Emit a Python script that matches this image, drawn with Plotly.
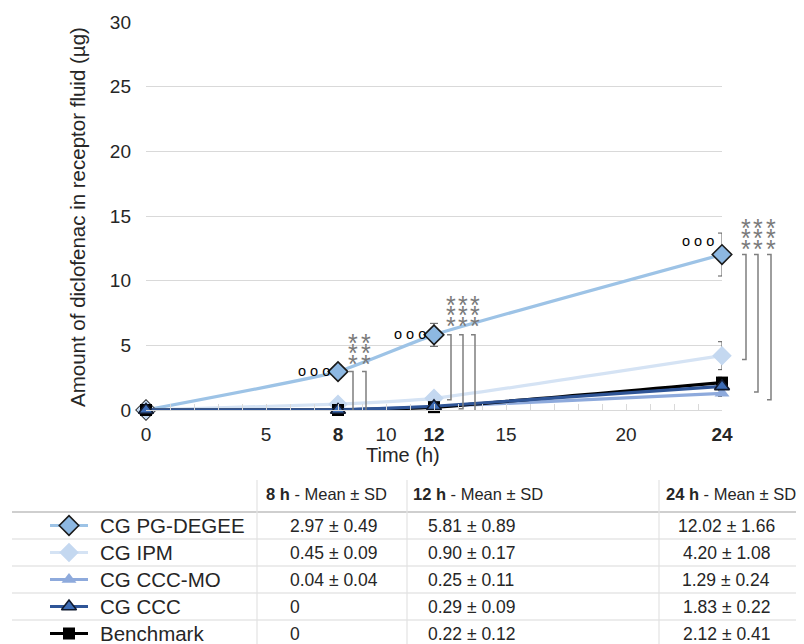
import plotly.graph_objects as go

# page body adds an 8px margin, so the figure is 8px smaller and all
# reference pixel positions are shifted by OFF
OFF = 8
W, H = 804 - OFF, 644 - OFF

# ---------------- data ----------------
time_h = [0, 8, 12, 24]
names = ["CG PG-DEGEE", "CG IPM", "CG CCC-MO", "CG CCC", "Benchmark"]
pg_mean = [0, 2.97, 5.81, 12.02]
pg_sd = [0, 0.49, 0.89, 1.66]
ipm_mean = [0, 0.45, 0.90, 4.20]
ipm_sd = [0, 0.09, 0.17, 1.08]
mo_mean = [0, 0.04, 0.25, 1.29]
mo_sd = [0, 0.04, 0.11, 0.24]
ccc_mean = [0, 0, 0.29, 1.83]
ccc_sd = [0, 0, 0.09, 0.22]
bm_mean = [0, 0, 0.22, 2.12]
bm_sd = [0, 0, 0.12, 0.41]

x_tickvals = [0, 5, 8, 10, 12, 15, 20, 24]
x_ticktext = ["0", "5", "<b>8</b>", "10", "<b>12</b>", "15", "20", "<b>24</b>"]
y_tickvals = [0, 5, 10, 15, 20, 25, 30]
table_times = [8, 12, 24]

# significance brackets: lower ends (µg)
sig_bottoms = {8: [-0.1, -0.1], 12: [0.8, 0.1, -0.2], 24: [3.9, 1.4, 0.8]}

# ---------------- styles ----------------
FONT = "Arial, Liberation Sans, sans-serif"
TXT = "#262626"
styles = [
    dict(line=dict(color="#9dc3e6", width=3.2),
         marker=dict(symbol="diamond", size=15, color="#8db8e2", line=dict(color="#1a1a1a", width=1.6))),
    dict(line=dict(color="#d5e3f4", width=3.2),
         marker=dict(symbol="diamond", size=15, color="#c4d8f0", line=dict(width=0))),
    dict(line=dict(color="#8eaadc", width=3.2),
         marker=dict(symbol="triangle-up", size=13, color="#8eaadc", line=dict(width=0))),
    dict(line=dict(color="#2f5597", width=3.2),
         marker=dict(symbol="triangle-up", size=13, color="#3d6cb5", line=dict(color="#111a2e", width=1.6))),
    dict(line=dict(color="#000000", width=3.2),
         marker=dict(symbol="square", size=12, color="#000000", line=dict(width=0))),
]
means = [pg_mean, ipm_mean, mo_mean, ccc_mean, bm_mean]
sds = [pg_sd, ipm_sd, mo_sd, ccc_sd, bm_sd]

fig = go.Figure()
draw_order = [0, 1, 2, 4, 3]
for i in draw_order:
    fig.add_trace(go.Scatter(
        x=time_h, y=means[i], name=names[i], mode="lines+markers",
        line=dict(styles[i]["line"], shape="spline", smoothing=0.4),
        marker=styles[i]["marker"], cliponaxis=False,
        error_y=dict(type="data", array=sds[i], color="#595959", thickness=1, width=4),
        showlegend=False))

# legend samples in table (own hidden axes)
for i in range(5):
    fig.add_trace(go.Scatter(x=[0, 1], y=[i, i], mode="lines", line=styles[i]["line"],
                             xaxis="x2", yaxis="y2", showlegend=False, hoverinfo="skip"))
    fig.add_trace(go.Scatter(x=[0.5], y=[i], mode="markers", marker=styles[i]["marker"],
                             xaxis="x2", yaxis="y2", showlegend=False, cliponaxis=False))

def px(x):
    return (x - OFF) / W

def py(y):
    return 1 - (y - OFF) / H

row_top, row_h = 512, 27.0
y2_bottom = -0.5 + (644 - row_top) / row_h

fig.update_layout(
    width=W, height=H, autosize=False,
    margin=dict(l=0, r=0, t=0, b=0, pad=0, autoexpand=False),
    paper_bgcolor="white", plot_bgcolor="white",
    font=dict(family=FONT, size=19, color=TXT),
    xaxis=dict(domain=[px(146), px(722)], range=[0, 24], tickmode="array",
               tickvals=x_tickvals, ticktext=x_ticktext, showgrid=False, zeroline=False,
               showline=True, linecolor="#d9d9d9", linewidth=1,
               ticks="inside", ticklen=6, tickcolor="#d9d9d9",
               minor=dict(dtick=1, tick0=0, ticks="inside", ticklen=6, tickcolor="#d9d9d9"),
               ticklabelstandoff=7, tickfont=dict(size=19, color=TXT), automargin=False),
    yaxis=dict(domain=[py(410), py(22)], range=[0, 30], tickvals=y_tickvals,
               showgrid=True, gridcolor="#d9d9d9", gridwidth=1, zeroline=False,
               ticks="", ticklabelstandoff=14, tickfont=dict(size=19, color=TXT), automargin=False),
    xaxis2=dict(domain=[px(50), px(88)], range=[0, 1], visible=False, anchor="y2"),
    yaxis2=dict(domain=[0, py(row_top)], range=[y2_bottom, -0.5], visible=False, anchor="x2"),
)

ann = []
shapes = []
# axis titles
ann.append(dict(text="Amount of diclofenac in receptor fluid (µg)", xref="paper", yref="paper",
                x=px(77), y=py(217), xanchor="center", yanchor="middle", textangle=-90,
                showarrow=False, font=dict(size=20.5)))
ann.append(dict(text="Time (h)", xref="paper", yref="paper", x=px(403), y=py(455),
                xanchor="center", yanchor="middle", showarrow=False, font=dict(size=20)))

# significance markers
bracket_px = {8: [353, 366], 12: [451, 463, 475], 24: [746, 758, 771]}
star_shift = {8: [15, 25.5, 36], 12: [16, 26.5, 37], 24: [13, 23.5, 34]}
for t in table_times:
    top = pg_mean[time_h.index(t)]
    for bx, bot in zip(bracket_px[t], sig_bottoms[t]):
        x0 = px(bx)
        dx = 4 / W
        shapes.append(dict(type="path", xref="paper", yref="y",
                           path=f"M {x0-dx},{top} L {x0},{top} L {x0},{bot} L {x0-dx},{bot}",
                           line=dict(color="#7f7f7f", width=1.5)))
        for s in star_shift[t]:
            ann.append(dict(text="*", xref="paper", yref="y", x=x0, y=top, yshift=s - 7,
                            xanchor="center", yanchor="middle",
                            showarrow=False, font=dict(size=25, color="#7a7a7a")))
    ann.append(dict(text="o o o", xref="x", yref="y", x=t, y=top,
                    xanchor="center", yanchor="middle",
                    xshift=-24, yshift=14 if t == 24 else 1, showarrow=False,
                    font=dict(size=14.5, color="#000000")))

# table lines
shapes.append(dict(type="line", xref="paper", yref="paper", x0=px(12), x1=1,
                   y0=py(row_top), y1=py(row_top), line=dict(color="#bfbfbf", width=1.5)))
for k in range(1, 5):
    yy = row_top + k * row_h
    shapes.append(dict(type="line", xref="paper", yref="paper", x0=px(12), x1=1,
                       y0=py(yy), y1=py(yy), line=dict(color="#d9d9d9", width=1.2)))
for vx in [257, 407, 659]:
    shapes.append(dict(type="line", xref="paper", yref="paper", x0=px(vx), x1=px(vx),
                       y0=py(480), y1=0, line=dict(color="#e3e3e3", width=1.2)))

# table header
head_x = [264, 411, 664]
for t, hx in zip(table_times, head_x):
    ann.append(dict(text=f"<b>{t} h</b> - Mean ± SD", xref="paper", yref="paper",
                    x=px(hx), y=py(494), xanchor="left", yanchor="middle",
                    showarrow=False, font=dict(size=16.5)))

def cell(m, s):
    return "0" if m == 0 and s == 0 else f"{m:.2f} ± {s:.2f}"

col_x = [288, 426, 726]
col_anchor = ["left", "left", "center"]
for i in range(5):
    ann.append(dict(text=names[i], xref="paper", yref="y2", x=px(98), y=i,
                    xanchor="left", yanchor="middle", showarrow=False, font=dict(size=20.5)))
    for c, t in enumerate(table_times):
        j = time_h.index(t)
        ann.append(dict(text=cell(means[i][j], sds[i][j]), xref="paper", yref="y2",
                        x=px(col_x[c]), y=i, xanchor=col_anchor[c], yanchor="middle",
                        showarrow=False, font=dict(size=17.5)))

fig.update_layout(annotations=ann, shapes=shapes)
fig.write_html("out.html")
